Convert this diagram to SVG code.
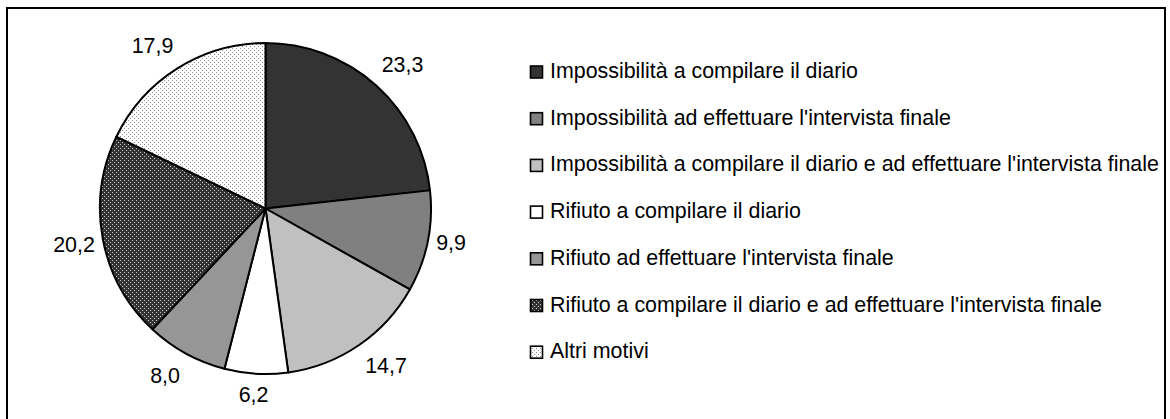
<svg xmlns="http://www.w3.org/2000/svg" width="1170" height="419" viewBox="0 0 1170 419">
<style>
text{font-family:"Liberation Sans",Arial,sans-serif;font-size:21.4px;fill:#000}
.lbl{text-anchor:middle}
.sl{stroke:#000;stroke-width:2;stroke-linejoin:round}
.mk{stroke:#000;stroke-width:1.6}
</style>
<defs>
<pattern id="pDark" width="4" height="4" patternUnits="userSpaceOnUse">
<rect width="4" height="4" fill="#333"/>
<rect x="0" y="0" width="1" height="1" fill="#ccc"/>
<rect x="2" y="2" width="1" height="1" fill="#ccc"/>
</pattern>
<pattern id="pLight" width="4" height="4" patternUnits="userSpaceOnUse">
<rect width="4" height="4" fill="#fff"/>
<rect x="0" y="0" width="1" height="1" fill="#888"/>
<rect x="2" y="2" width="1" height="1" fill="#888"/>
</pattern>
</defs>
<rect x="0" y="0" width="1170" height="419" fill="#fff"/>
<rect x="7" y="8" width="1158" height="420" fill="none" stroke="#000" stroke-width="2"/>
<g id="pie">
<path class="sl" fill="#333" d="M265.5,208.5 L265.5,43 A165.5,165.5 0 0 1 430.0,190.38 Z"/>
<path class="sl" fill="#808080" d="M265.5,208.5 L430.0,190.38 A165.5,165.5 0 0 1 409.86,289.44 Z"/>
<path class="sl" fill="#c0c0c0" d="M265.5,208.5 L409.86,289.44 A165.5,165.5 0 0 1 288.25,372.43 Z"/>
<path class="sl" fill="#fff" d="M265.5,208.5 L288.25,372.43 A165.5,165.5 0 0 1 224.42,368.82 Z"/>
<path class="sl" fill="#969696" d="M265.5,208.5 L224.42,368.82 A165.5,165.5 0 0 1 152.4,329.33 Z"/>
<path class="sl" fill="url(#pDark)" d="M265.5,208.5 L152.4,329.33 A165.5,165.5 0 0 1 116.37,136.76 Z"/>
<path class="sl" fill="url(#pLight)" d="M265.5,208.5 L116.37,136.76 A165.5,165.5 0 0 1 265.5,43 Z"/>
</g>
<g id="labels">
<text class="lbl" x="402.5" y="71.5">23,3</text>
<text class="lbl" x="451" y="250">9,9</text>
<text class="lbl" x="386" y="373">14,7</text>
<text class="lbl" x="253.5" y="401.5">6,2</text>
<text class="lbl" x="165" y="383">8,0</text>
<text class="lbl" x="74" y="252">20,2</text>
<text class="lbl" x="152.5" y="53">17,9</text>
</g>
<g id="legend">
<g id="leg1"><rect class="mk" x="530.5" y="66" width="12" height="12" fill="#333"/><text x="550" y="78">Impossibilità a compilare il diario</text></g>
<g id="leg2"><rect class="mk" x="530.5" y="112.7" width="12" height="12" fill="#808080"/><text x="550" y="124.7">Impossibilità ad effettuare l'intervista finale</text></g>
<g id="leg3"><rect class="mk" x="530.5" y="159.4" width="12" height="12" fill="#c0c0c0"/><text x="550" y="171.4">Impossibilità a compilare il diario e ad effettuare l'intervista finale</text></g>
<g id="leg4"><rect class="mk" x="530.5" y="206.1" width="12" height="12" fill="#fff"/><text x="550" y="218.1">Rifiuto a compilare il diario</text></g>
<g id="leg5"><rect class="mk" x="530.5" y="252.8" width="12" height="12" fill="#969696"/><text x="550" y="264.8">Rifiuto ad effettuare l'intervista finale</text></g>
<g id="leg6"><rect class="mk" x="530.5" y="299.5" width="12" height="12" fill="url(#pDark)"/><text x="550" y="311.5">Rifiuto a compilare il diario e ad effettuare l'intervista finale</text></g>
<g id="leg7"><rect class="mk" x="530.5" y="346.2" width="12" height="12" fill="url(#pLight)"/><text x="550" y="358.2">Altri motivi</text></g>
</g>
</svg>
